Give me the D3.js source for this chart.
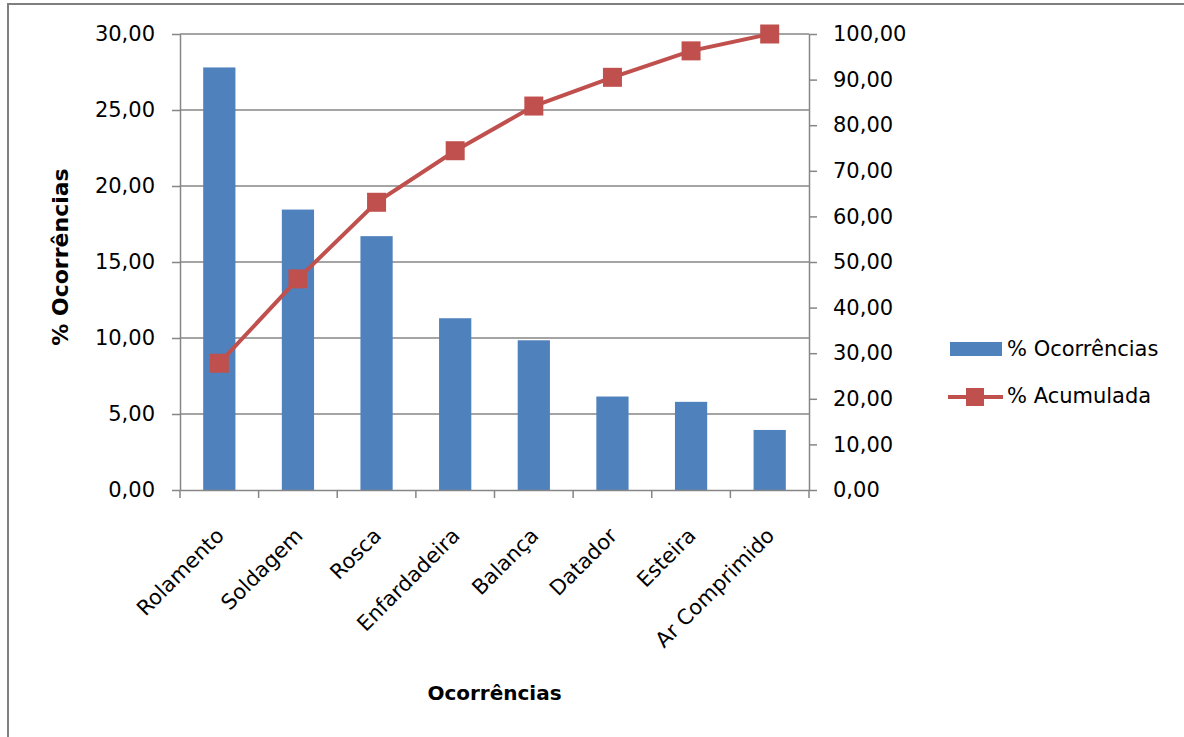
<!DOCTYPE html>
<html>
<head>
<meta charset="utf-8">
<script src="https://cdn.jsdelivr.net/npm/d3@7"></script>
<style>
	body { margin: 0; background: #fff; }
	svg { display: block; font-family: "DejaVu Sans", sans-serif; }
	.tick text { fill: #000; }
</style>
</head>
<body>
<svg id="pareto" width="1184" height="737"></svg>
<script>
// pareto chart - ocorrencias (bars) + acumulada (line)
var categorias = ["Rolamento", "Soldagem", "Rosca", "Enfardadeira", "Balança", "Datador", "Esteira", "Ar Comprimido"];
var ocorrencias = [27.8, 18.45, 16.7, 11.3, 9.85, 6.15, 5.8, 3.95];
var acumulada = [27.8, 46.3, 63.1, 74.4, 84.2, 90.5, 96.3, 100];
var ticksEsq = [0, 5, 10, 15, 20, 25, 30];
var ticksDir = [0, 10, 20, 30, 40, 50, 60, 70, 80, 90, 100];

var azul = "#4F81BD", vermelho = "#C0504D", cinza = "#868686";

var ptBR = d3.formatLocale({decimal: ",", thousands: ".", grouping: [3], currency: ["R$", ""]});
var fmt = ptBR.format(".2f");

var svg = d3.select("#pareto");

// moldura
svg.append("path")
	.attr("d", "M8,740 L8,4 L1190,4")
	.attr("fill", "none")
	.attr("stroke", "#7f7f7f")
	.attr("stroke-width", 2);

var margemEsq = 180, margemTopo = 34, width = 629, height = 456;
var g = svg.append("g").attr("transform", "translate(" + margemEsq + "," + margemTopo + ")");

var xScale = d3.scaleBand()
	.domain(categorias)
	.range([0, width])
	.paddingInner(0.59)
	.paddingOuter(0.295);
var yEsq = d3.scaleLinear().domain([0, 30]).range([height, 0]);
var yDir = d3.scaleLinear().domain([0, 100]).range([height, 0]);

// grade
g.selectAll("line.grid")
	.data(ticksEsq.slice(1))
	.enter().append("line")
	.attr("class", "grid")
	.attr("x1", 0).attr("x2", width)
	.attr("y1", function(d){ return yEsq(d); })
	.attr("y2", function(d){ return yEsq(d); })
	.attr("stroke", cinza)
	.attr("stroke-width", 1.5);

// barras
g.selectAll("rect.bar")
	.data(ocorrencias)
	.enter().append("rect")
	.attr("class", "bar")
	.attr("x", function(d, i){ return xScale(categorias[i]); })
	.attr("y", function(d){ return yEsq(d); })
	.attr("width", xScale.bandwidth())
	.attr("height", function(d){ return height - yEsq(d); })
	.attr("fill", azul);

// eixos
var eixoEsq = g.append("g")
	.call(d3.axisLeft(yEsq).tickValues(ticksEsq).tickFormat(fmt).tickSize(8).tickSizeOuter(0).tickPadding(17));
var eixoDir = g.append("g")
	.attr("transform", "translate(" + width + ",0)")
	.call(d3.axisRight(yDir).tickValues(ticksDir).tickFormat(fmt).tickSize(8).tickSizeOuter(0).tickPadding(16));
var eixoX = g.append("g")
	.attr("transform", "translate(0," + height + ")")
	.call(d3.axisBottom(xScale).tickSize(0).tickSizeOuter(0).tickPadding(0));

[eixoEsq, eixoDir, eixoX].forEach(function(a){
	a.selectAll("path.domain").attr("stroke", cinza).attr("stroke-width", 1.5);
	a.selectAll(".tick line").attr("stroke", cinza).attr("stroke-width", 1.5);
	a.selectAll("text").attr("font-size", 21).attr("font-family", "DejaVu Sans");
});

// marcas entre categorias
eixoX.selectAll("line.sep")
	.data(d3.range(categorias.length + 1))
	.enter().append("line")
	.attr("class", "sep")
	.attr("x1", function(i){ return i * xScale.step(); })
	.attr("x2", function(i){ return i * xScale.step(); })
	.attr("y1", 0).attr("y2", 8)
	.attr("stroke", cinza)
	.attr("stroke-width", 1.5);

eixoX.selectAll(".tick text")
	.attr("font-size", 21)
	.attr("text-anchor", "end")
	.attr("dy", null)
	.attr("y", null)
	.attr("transform", "translate(6,47) rotate(-45)");

// linha acumulada
var cx = function(d, i){ return xScale(categorias[i]) + xScale.bandwidth() / 2; };
var line = d3.line()
	.x(cx)
	.y(function(d){ return yDir(d); });

g.append("path")
	.datum(acumulada)
	.attr("d", line)
	.attr("fill", "none")
	.attr("stroke", vermelho)
	.attr("stroke-width", 4);

g.selectAll("rect.marker")
	.data(acumulada)
	.enter().append("rect")
	.attr("class", "marker")
	.attr("x", function(d, i){ return cx(d, i) - 9.5; })
	.attr("y", function(d){ return yDir(d) - 9.5; })
	.attr("width", 19).attr("height", 19)
	.attr("fill", vermelho);

// titulos
svg.append("text")
	.attr("transform", "translate(60,257) rotate(-90)")
	.attr("text-anchor", "middle")
	.attr("dy", "0.35em")
	.attr("font-size", 22)
	.attr("font-weight", "bold")
	.text("% Ocorrências");

svg.append("text")
	.attr("x", margemEsq + width / 2)
	.attr("y", 700)
	.attr("text-anchor", "middle")
	.attr("font-size", 20)
	.attr("font-weight", "bold")
	.text("Ocorrências");

// legenda
var leg = svg.append("g");
leg.append("rect")
	.attr("x", 950).attr("y", 342).attr("width", 52).attr("height", 14)
	.attr("fill", azul);
leg.append("text")
	.attr("x", 1007).attr("y", 349).attr("dy", "0.35em")
	.attr("font-size", 21)
	.text("% Ocorrências");
leg.append("line")
	.attr("x1", 948).attr("x2", 1003).attr("y1", 397).attr("y2", 397)
	.attr("stroke", vermelho).attr("stroke-width", 4);
leg.append("rect")
	.attr("x", 966).attr("y", 388).attr("width", 18).attr("height", 18)
	.attr("fill", vermelho);
leg.append("text")
	.attr("x", 1007).attr("y", 396).attr("dy", "0.35em")
	.attr("font-size", 21)
	.text("% Acumulada");
</script>
</body>
</html>
